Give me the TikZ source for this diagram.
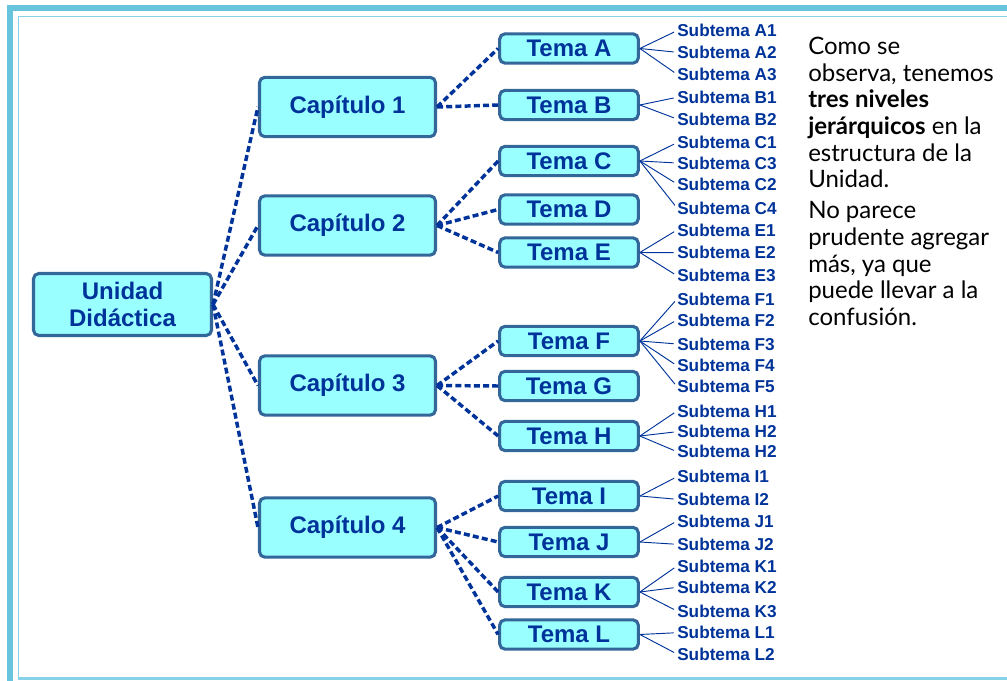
\documentclass[tikz,border=0pt]{standalone}
\usepackage{fontspec}
\setmainfont{Liberation Sans}
\newfontfamily\gillfont{Lato}
\definecolor{boxfill}{HTML}{99FFFF}
\definecolor{boxline}{HTML}{336699}
\definecolor{navy}{HTML}{003399}
\definecolor{frameA}{HTML}{68C4DC}
\definecolor{frameB}{HTML}{86D2E8}
\tikzset{
  box/.style={draw=boxline, fill=boxfill, line width=2.3pt, rounded corners=4pt,
    text=navy, font=\bfseries\fontsize{18}{20.25}\selectfont, inner sep=0pt, align=center},
  capbox/.style={box, minimum width=132pt, minimum height=44.5pt},
  temabox/.style={box, minimum width=104pt, minimum height=22pt},
  sublabel/.style={anchor=west, inner sep=0pt, text=navy, font=\bfseries\fontsize{12.9}{14}\selectfont},
  dlink/.style={draw=navy, line width=2.6pt, dash pattern=on 4.5pt off 2.4pt},
  slink/.style={draw=navy, line width=0.7pt, shorten >=2.5pt},
}
\begin{document}
\begin{tikzpicture}[x=0.75pt,y=-0.75pt]
\useasboundingbox (0,0) rectangle (1007,681);
% frame
\draw[frameA, line width=4.5pt] (10,681) -- (10,8) -- (1007,8);
\draw[frameB, line width=1.1pt] (18.5,678) -- (18.5,16.5) -- (1007,16.5);
\draw[frameB, line width=1.8pt] (18,678.5) -- (1007,678.5);

% main nodes
\node[box, minimum width=133.5pt, minimum height=46.5pt] (U) at (122.5,304.5) {Unidad\\Didáctica};
\node[capbox] (c1) at (347.5,107) {Capítulo 1};
\node[capbox] (c2) at (347.5,225.5) {Capítulo 2};
\node[capbox] (c3) at (347.5,385.5) {Capítulo 3};
\node[capbox] (c4) at (347.5,527.5) {Capítulo 4};

\node[temabox] (tA) at (569,48.5) {Tema A};
\node[temabox] (tB) at (569,105) {Tema B};
\node[temabox] (tC) at (569,161) {Tema C};
\node[temabox] (tD) at (569,209.5) {Tema D};
\node[temabox] (tE) at (569,252.5) {Tema E};
\node[temabox] (tF) at (569,341) {Tema F};
\node[temabox] (tG) at (569,386) {Tema G};
\node[temabox] (tH) at (569,436) {Tema H};
\node[temabox] (tI) at (569,496) {Tema I};
\node[temabox] (tJ) at (569,542) {Tema J};
\node[temabox] (tK) at (569,592) {Tema K};
\node[temabox] (tL) at (569,634.5) {Tema L};

% dashed connectors
\foreach \c in {c1,c2,c3,c4} \draw[dlink] (U.east) -- (\c.west);
\foreach \t in {tA,tB} \draw[dlink] (c1.east) -- (\t.west);
\foreach \t in {tC,tD,tE} \draw[dlink] (c2.east) -- (\t.west);
\foreach \t in {tF,tG,tH} \draw[dlink] (c3.east) -- (\t.west);
\foreach \t in {tI,tJ,tK,tL} \draw[dlink] (c4.east) -- (\t.west);

% subtemas
\foreach \n/\y/\t/\s in {A1/30.7/tA/Subtema A1, A2/52.3/tA/Subtema A2, A3/74.3/tA/Subtema A3,
  B1/97.3/tB/Subtema B1, B2/119/tB/Subtema B2,
  C1/142.7/tC/Subtema C1, C3/163/tC/Subtema C3, C2/184/tC/Subtema C2, C4/208/tC/Subtema C4,
  E1/230/tE/Subtema E1, E2/252.7/tE/Subtema E2, E3/275.7/tE/Subtema E3,
  F1/299/tF/Subtema F1, F2/320/tF/Subtema F2, F3/344/tF/Subtema F3, F4/365.7/tF/Subtema F4, F5/386.7/tF/Subtema F5,
  H1/411/tH/Subtema H1, H2/431.7/tH/Subtema H2, H3/451.7/tH/Subtema H2,
  I1/476.7/tI/Subtema I1, I2/499.3/tI/Subtema I2,
  J1/521/tJ/Subtema J1, J2/544.3/tJ/Subtema J2,
  K1/566/tK/Subtema K1, K2/587.3/tK/Subtema K2, K3/611/tK/Subtema K3,
  L1/632.7/tL/Subtema L1, L2/654/tL/Subtema L2}
{
  \node[sublabel] (s\n) at (677,\y) {\s};
  \draw[slink] (\t.east) -- (s\n.west);
}

% side text
\node[anchor=north west, inner sep=0pt, align=left, text=black,
  font=\gillfont\fontsize{18}{20}\selectfont] (txt) at (808,37)
  {Como se\\observa, tenemos\\\textbf{tres niveles}\\\textbf{jerárquicos} en la\\estructura de la\\Unidad.\\[3.2pt]No parece\\prudente agregar\\más, ya que\\puede llevar a la\\confusión.};
\end{tikzpicture}
\end{document}
